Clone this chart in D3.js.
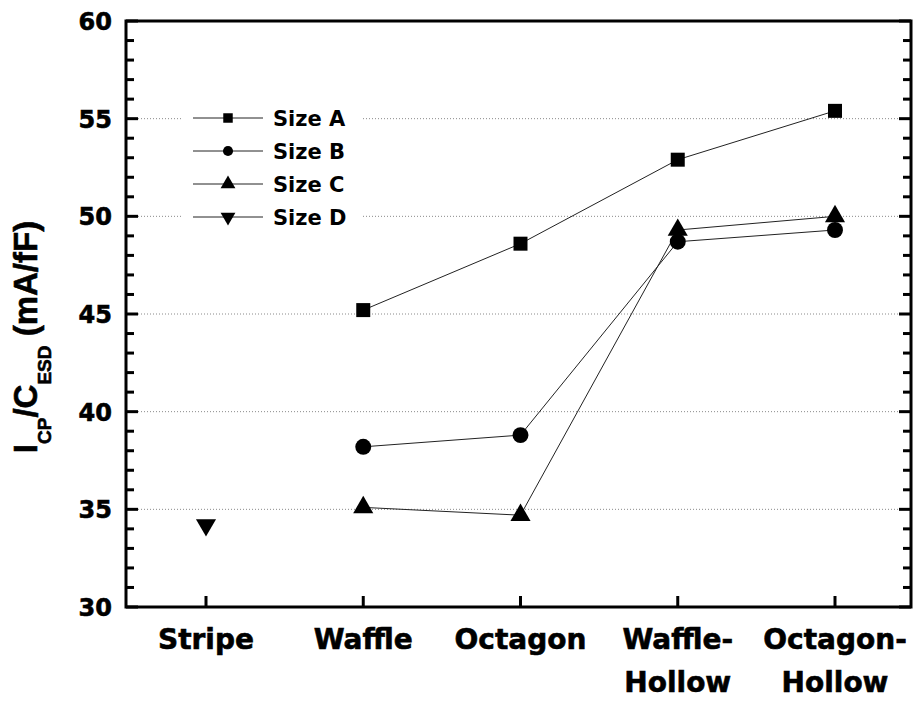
<!DOCTYPE html>
<html>
<head>
<meta charset="utf-8">
<script src="https://cdn.jsdelivr.net/npm/d3@7"></script>
<style>
  html, body { margin: 0; padding: 0; background: #fff; }
  svg { display: block; }
  text { font-family: "DejaVu Sans", sans-serif; font-weight: bold; fill: #000; }
</style>
</head>
<body>
<svg id="chart" width="913" height="702"></svg>
<script>
// Cell layout categories (x axis)
const categories = ["Stripe", "Waffle", "Octagon", "Waffle-Hollow", "Octagon-Hollow"];
const categoryLines = [["Stripe"], ["Waffle"], ["Octagon"], ["Waffle-", "Hollow"], ["Octagon-", "Hollow"]];

// I_CP / C_ESD (mA/fF) per device size; null = not measured
const sizeA = [null, 45.2, 48.6, 52.9, 55.4];
const sizeB = [null, 38.2, 38.8, 48.7, 49.3];
const sizeC = [null, 35.1, 34.7, 49.3, 50.0];
const sizeD = [34.2, null, null, null, null];

const seriesNames = ["Size A", "Size B", "Size C", "Size D"];
const yTicks = [30, 35, 40, 45, 50, 55, 60];
const yMinorTicks = [31, 32, 33, 34, 36, 37, 38, 39, 41, 42, 43, 44, 46, 47, 48, 49, 51, 52, 53, 54, 56, 57, 58, 59];
const gridValues = [35, 40, 45, 50, 55];

const svg = d3.select("#chart");
const frame = { left: 126, right: 911, top: 21, bottom: 607 };

const x = d3.scalePoint().domain(categories).range([206, 835]);
const y = d3.scaleLinear().domain([30, 60]).range([frame.bottom, frame.top]);

// dotted horizontal grid
svg.append("g").selectAll("line").data(gridValues).join("line")
  .attr("x1", frame.left).attr("x2", frame.right)
  .attr("y1", d => y(d)).attr("y2", d => y(d))
  .attr("stroke", "#8a8a8a").attr("stroke-width", 1)
  .attr("stroke-dasharray", "1,2");

// legend backdrop hides the grid behind it
const legendX = 193, legendY0 = 118, legendDy = 33;
svg.append("rect").attr("x", 183).attr("y", legendY0 - 16)
  .attr("width", 180).attr("height", legendDy * 3 + 32).attr("fill", "#fff");

// y tick labels via the axis generator (its own tick lines removed)
const gl = svg.append("g").attr("transform", `translate(${frame.left},0)`)
  .call(d3.axisLeft(y).tickValues(yTicks).tickSize(0).tickPadding(14).tickFormat(d3.format("d")));
gl.select(".domain").remove();
gl.selectAll(".tick line").remove();
gl.selectAll(".tick text")
  .style("font-size", "24px").style("font-family", "'DejaVu Sans', sans-serif")
  .style("font-weight", "bold").attr("fill", "#000")
  .attr("stroke", "#000").attr("stroke-width", 0.6).attr("dy", "0.36em");

// frame
svg.append("rect")
  .attr("x", frame.left).attr("y", frame.top)
  .attr("width", frame.right - frame.left).attr("height", frame.bottom - frame.top)
  .attr("fill", "none").attr("stroke", "#000").attr("stroke-width", 3);

// inward ticks on left and right edges
const tickG = svg.append("g");
const edges = [{ x0: frame.left, dir: 1 }, { x0: frame.right, dir: -1 }];
edges.forEach(e => {
  tickG.selectAll(null).data(yTicks).enter().append("line")
    .attr("x1", e.x0).attr("x2", e.x0 + e.dir * 12)
    .attr("y1", d => y(d)).attr("y2", d => y(d))
    .attr("stroke", "#000").attr("stroke-width", 3);
  tickG.selectAll(null).data(yMinorTicks).enter().append("line")
    .attr("x1", e.x0).attr("x2", e.x0 + e.dir * 8)
    .attr("y1", d => y(d)).attr("y2", d => y(d))
    .attr("stroke", "#000").attr("stroke-width", 3);
});
// inward ticks on the bottom edge at each category
tickG.selectAll(null).data(categories).enter().append("line")
  .attr("x1", d => x(d)).attr("x2", d => x(d))
  .attr("y1", frame.bottom).attr("y2", frame.bottom - 11)
  .attr("stroke", "#000").attr("stroke-width", 3);

// category labels (some on two lines)
const labels = svg.append("g").selectAll("text").data(categories).join("text")
  .attr("x", d => x(d)).attr("y", 649)
  .attr("text-anchor", "middle").style("font-size", "28px")
  .attr("stroke", "#000").attr("stroke-width", 0.6);
labels.each(function(d, i) {
  const t = d3.select(this);
  categoryLines[i].forEach((line, j) => {
    t.append("tspan").attr("x", x(d)).attr("dy", j === 0 ? 0 : 43).text(line);
  });
});

// series
const seriesData = [sizeA, sizeB, sizeC, sizeD];
const symbols = [
  { type: d3.symbolSquare, size: 196, legendSize: 90 },
  { type: d3.symbolCircle, size: 200, legendSize: 80 },
  { type: d3.symbolTriangle, size: 175, legendSize: 95 },
  { type: d3.symbolTriangle, size: 175, legendSize: 95, flip: true }
];

const line = d3.line()
  .defined(d => d.v !== null)
  .x(d => x(d.c)).y(d => y(d.v));

seriesData.forEach(vals => {
  const pts = vals.map((v, i) => ({ c: categories[i], v }));
  svg.append("path").datum(pts)
    .attr("d", line).attr("fill", "none")
    .attr("stroke", "#222").attr("stroke-width", 1);
});

seriesData.forEach((vals, s) => {
  const pts = vals.map((v, i) => ({ c: categories[i], v })).filter(d => d.v !== null);
  const sym = d3.symbol().type(symbols[s].type).size(symbols[s].size);
  svg.append("g").selectAll("path").data(pts).join("path")
    .attr("d", sym)
    .attr("transform", d => `translate(${x(d.c)},${y(d.v)})` + (symbols[s].flip ? " rotate(180)" : ""))
    .attr("fill", "#000");
});

// legend
const legend = svg.append("g");
seriesNames.forEach((name, i) => {
  const ly = legendY0 + i * legendDy;
  legend.append("line").attr("x1", legendX).attr("x2", legendX + 70)
    .attr("y1", ly).attr("y2", ly).attr("stroke", "#222").attr("stroke-width", 1);
  legend.append("path")
    .attr("d", d3.symbol().type(symbols[i].type).size(symbols[i].legendSize))
    .attr("transform", `translate(${legendX + 35},${ly})` + (symbols[i].flip ? " rotate(180)" : ""))
    .attr("fill", "#000");
  legend.append("text").attr("x", legendX + 80).attr("y", ly).attr("dy", "0.36em")
    .style("font-size", "21px").text(name);
});

// y-axis title with subscripts
const title = svg.append("text")
  .attr("transform", "translate(37,337) rotate(-90)")
  .attr("text-anchor", "middle")
  .style("font-family", "'Liberation Sans', Arial, sans-serif")
  .style("font-size", "33px")
  .attr("stroke", "#000").attr("stroke-width", 0.6);
title.append("tspan").text("I");
title.append("tspan").attr("dy", 14).style("font-size", "19px").text("CP");
title.append("tspan").attr("dy", -14).text("/C");
title.append("tspan").attr("dy", 14).style("font-size", "19px").text("ESD");
title.append("tspan").attr("dy", -14).text(" (mA/fF)");
</script>
</body>
</html>
